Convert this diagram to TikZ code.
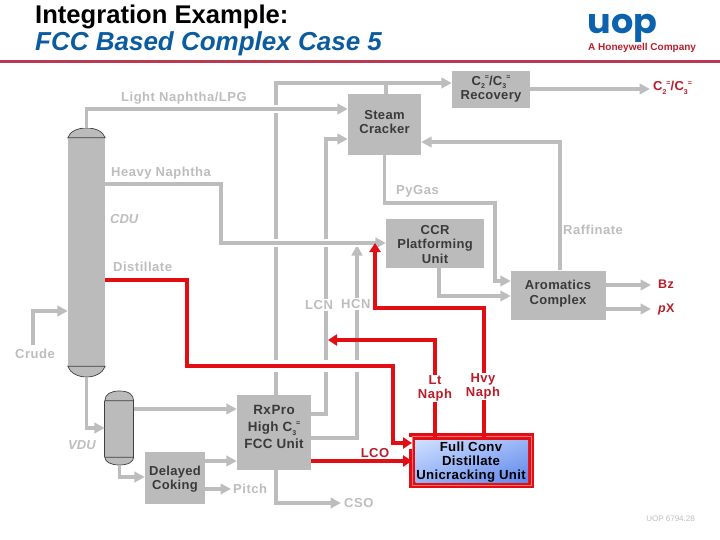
\documentclass[tikz,border=0pt]{standalone}
\usepackage{fontspec}
\setmainfont{Liberation Sans}
\newfontfamily\lblfont[LetterSpace=4]{Liberation Sans Bold}
\newfontfamily\boxfont[LetterSpace=2.5]{Liberation Sans Bold}
\newfontfamily\logofont{Poppins Bold}
\usetikzlibrary{arrows.meta,shadings,calc}
\definecolor{linegrey}{HTML}{BDBDBD}
\definecolor{boxgrey}{HTML}{BBBBBB}
\definecolor{boxtext}{HTML}{3A3A3A}
\definecolor{redline}{HTML}{E30D14}
\definecolor{redtext}{HTML}{B81E2A}
\definecolor{rule}{HTML}{B83A52}
\definecolor{uopblue}{HTML}{0B62AE}
\definecolor{titleblue}{HTML}{0A5C9E}
\definecolor{uniA}{HTML}{CFE0FF}
\definecolor{uniB}{HTML}{6088EC}
\newcommand{\lowdigit}[1]{\raisebox{-.28em}{\scriptsize #1}}
\newcommand{\higheq}{\raisebox{.42em}{\scriptsize =}}
\tikzset{
  x=1pt,y=-1pt,
  unit/.style={draw=none,fill=boxgrey,inner sep=0pt},
  unittext/.style={text=boxtext,inner sep=0pt,align=center,font=\boxfont\fontsize{13}{14.4}\selectfont},
  vessel/.style={fill=boxgrey,inner sep=0pt},
  grey/.style={draw=linegrey,line width=3.2pt},
  flow/.style={grey,-{Triangle[length=10.5pt,width=10.5pt,color=linegrey]}},
  thick red/.style={draw=redline,line width=3.9pt},
  redflow/.style={thick red,-{Triangle[length=9pt,width=11pt,color=redline]}},
  lbl/.style={text=linegrey,inner sep=0pt,font=\lblfont\fontsize{13}{14}\selectfont},
  ital/.style={text=linegrey,inner sep=0pt,font=\fontsize{13}{14}\selectfont\bfseries\itshape},
  redlbl/.style={text=redtext,inner sep=0pt,align=center,font=\lblfont\fontsize{13}{14.2}\selectfont},
  product/.style={text=redtext,inner sep=0pt,font=\boxfont\fontsize{12.5}{14}\selectfont},
  halo/.style={preaction={draw=white,line width=#1,-}},
  cap line/.style={draw=black!75,line width=0.7pt},
}
\begin{document}
\begin{tikzpicture}
\useasboundingbox (0,0) rectangle (720,540);

% header
\coordinate (ruleL) at (0,62);
\coordinate (ruleR) at (720,62);
\draw[draw=rule,line width=3pt] (ruleL) -- (ruleR);
\node[anchor=base west,inner sep=0pt,text=black,font=\bfseries\fontsize{25.6}{28}\selectfont] (title1) at (35,24) {Integration Example:};
\node[anchor=base west,inner sep=0pt,text=titleblue,font=\fontsize{26}{28}\selectfont\bfseries\itshape] (title2) at (35,50.5) {FCC Based Complex Case 5};
\node[anchor=base,inner sep=0pt,text=uopblue,font=\logofont\fontsize{34}{34}\selectfont] (logo) at (622.5,33.5) {\scalebox{1.03}[1]{uop}};
\node[anchor=west,inner sep=0pt,text=redtext,font=\bfseries\fontsize{10}{11}\selectfont] (hon) at (588,48) {A Honeywell Company};

% units
\node[unit,minimum width=73pt,minimum height=61pt] (sc) at (384.5,124.5) {};
\node[unit,minimum width=78pt,minimum height=37pt] (rec) at (491,89.5) {};
\node[unit,minimum width=98pt,minimum height=49pt] (ccr) at (435,243.5) {};
\node[unit,minimum width=95pt,minimum height=49pt] (aro) at (558.5,295) {};
\node[unit,minimum width=74pt,minimum height=75pt] (fcc) at (274,432.5) {};
\node[unit,minimum width=60pt,minimum height=52pt] (coke) at (175,478) {};

% columns
\node[vessel,minimum width=37pt,minimum height=228pt] (cdu) at (86.5,252) {};
\coordinate (cduTop) at (86.5,128);
\coordinate (cduBot) at (86.5,377);
\draw[cap line,fill=boxgrey] (cdu.north west) .. controls (70,131) and (78,128) .. (cduTop) .. controls (95,128) and (103,131) .. (cdu.north east) -- cycle;
\draw[cap line,fill=boxgrey] (cdu.south west) .. controls (70,373) and (78,377) .. (cduBot) .. controls (95,377) and (103,373) .. (cdu.south east) -- cycle;

\node[vessel,minimum width=28.5pt,minimum height=56pt] (vdu) at (119.25,429) {};
\coordinate (vduTop) at (119.25,391);
\coordinate (vduBot) at (119.25,465);
\draw[cap line,fill=boxgrey] (vdu.north west) .. controls (105,394) and (111,391) .. (vduTop) .. controls (128,391) and (133.5,394) .. (vdu.north east) -- cycle;
\draw[cap line,fill=boxgrey] (vdu.south west) .. controls (105,462) and (111,465) .. (vduBot) .. controls (128,465) and (133.5,462) .. (vdu.south east) -- cycle;
\draw[cap line] (vdu.north west) -- (vdu.south west) (vdu.north east) -- (vdu.south east);

% free ends
\coordinate (crudeEnd) at (33,345);
\coordinate (c2out) at (650,89);
\coordinate (bzout) at (651,285);
\coordinate (pxout) at (651,309);
\coordinate (pitchout) at (231,489);
\coordinate (csoout) at (341,503);

% grey lines that get crossed
\draw[flow] (fcc.north -| 276,0) -- (276,83) -- (rec.west |- 0,83);
\draw[grey] (sc.north -| 386,0) -- (386,83);
\draw[flow] (fcc.east |- 0,414) -- (326,414) -- (326,139) -- (sc.west |- 0,139);
\draw[flow] (fcc.east |- 0,438) -- (357,438) -- (357,245);
\draw[flow,halo=8pt] (cduTop) -- (86.5,109) -- (sc.west |- 0,109);
\draw[flow,halo=8pt] (cdu.east |- 0,184) -- (221,184) -- (221,243) -- (ccr.west |- 0,243);

% other grey flows
\draw[flow] (rec.east |- 0,89) -- (c2out);
\draw[flow] (sc.south) -- (384.5,203) -- (495,203) -- (495,281) -- (aro.west |- 0,281);
\draw[flow] (ccr.south -| 439,0) -- (439,296) -- (aro.west |- 0,296);
\draw[flow] (aro.north -| 560,0) -- (560,142) -- (sc.east |- 0,142);
\draw[flow] (aro.east |- 0,285) -- (bzout);
\draw[flow] (aro.east |- 0,309) -- (pxout);
\draw[flow] (crudeEnd) -- (33,311) -- (cdu.west |- 0,311);
\draw[flow] (cduBot) -- (86.5,428) -- (vdu.west |- 0,428);
\draw[flow] (vdu.east |- 0,409) -- (fcc.west |- 0,409);
\draw[flow] (vduBot) -- (119.25,477) -- (coke.west |- 0,477);
\draw[flow] (coke.east |- 0,461) -- (fcc.west |- 0,461);
\draw[flow] (coke.east |- 0,489) -- (pitchout);
\draw[flow] (fcc.south -| 276,0) -- (276,503) -- (csoout);

% unit texts
\node[unittext] (scT) at (384.5,122) {Steam\\Cracker};
\node[unittext] (recT) at (491,89) {C\lowdigit{2}\higheq/C\lowdigit{3}\higheq\\Recovery};
\node[unittext] (ccrT) at (435,244.5) {CCR\\Platforming\\Unit};
\node[unittext] (aroT) at (558,293.5) {Aromatics\\Complex};
\node[unittext,font=\boxfont\fontsize{13.4}{17}\selectfont] (fccT) at (274,427) {Rx\kern1pt Pro\\High C\lowdigit{3}\higheq\\FCC Unit};
\node[unittext] (cokeT) at (175,479) {Delayed\\Coking};

% unicracker
\node[draw=redline,line width=6.5pt,outer sep=0pt,inner sep=0pt,minimum width=119pt,minimum height=48.5pt] (uni) at (471.5,460.75) {};
\shade[upper left=uniA,upper right=uniA!50!uniB,lower left=uniA!50!uniB,lower right=uniB] (415.5,440) rectangle (528,482);
\draw[draw=red!55!white,line width=0.5pt] (uni.north west) rectangle (uni.south east);
\node[unittext,text=black,font=\boxfont\fontsize{13.2}{14}\selectfont] (uniT) at (471,462) {Full Conv\\Distillate\\Unicracking Unit};

% red flows
\draw[redflow,halo=12pt] (cdu.east |- 0,280) -- (187,280) -- (187,366) -- (393,366) -- (393,443) -- (uni.west |- 0,443);
\draw[redflow] (uni.north -| 484,0) -- (484,308) -- (375,308) -- (375,243);
\draw[redflow] (uni.north -| 435,0) -- (435,340) -- (328,340);
\draw[redflow,line width=3.3pt] (fcc.east |- 0,461) -- (uni.west |- 0,461);

% labels
\node[lbl,anchor=west] (l1) at (121,98) {Light Naphtha/LPG};
\node[lbl,anchor=west] (l2) at (111,173) {Heavy Naphtha};
\node[ital,anchor=west] (l3) at (110,219) {CDU};
\node[lbl,anchor=west] (l4) at (113,267) {Distillate};
\node[lbl,anchor=west] (l5) at (396,191) {PyGas};
\node[lbl,anchor=west] (l6) at (563,230) {Raffinate};
\node[lbl,fill=white,inner sep=1pt,anchor=west] (l7) at (304,305) {LCN};
\node[lbl,fill=white,inner sep=1pt,anchor=west] (l8) at (340,304) {HCN};
\node[lbl] (l9) at (35,354) {Crude};
\node[ital,anchor=west] (l10) at (68,445) {VDU};
\node[lbl,anchor=west] (l11) at (233,489) {Pitch};
\node[lbl,anchor=west] (l12) at (344,503) {CSO};
\node[redlbl,fill=white,inner sep=1pt] (l13) at (435,388.5) {Lt\\Naph};
\node[redlbl,fill=white,inner sep=1pt] (l14) at (483,386.5) {Hvy\\Naph};
\node[redlbl] (l15) at (375,453) {LCO};
\node[product,anchor=west,font=\boxfont\fontsize{13}{14}\selectfont] (p1) at (653,88) {C\lowdigit{2}\higheq/C\lowdigit{3}\higheq};
\node[product,anchor=west] (p2) at (658,284) {Bz};
\node[product,anchor=west] (p3) at (658,309) {\textit{p}X};
\node[anchor=east,inner sep=0pt,text=linegrey,font=\fontsize{8}{8}\selectfont] (foot) at (695,518.5) {UOP 6794.28};
\end{tikzpicture}
\end{document}
